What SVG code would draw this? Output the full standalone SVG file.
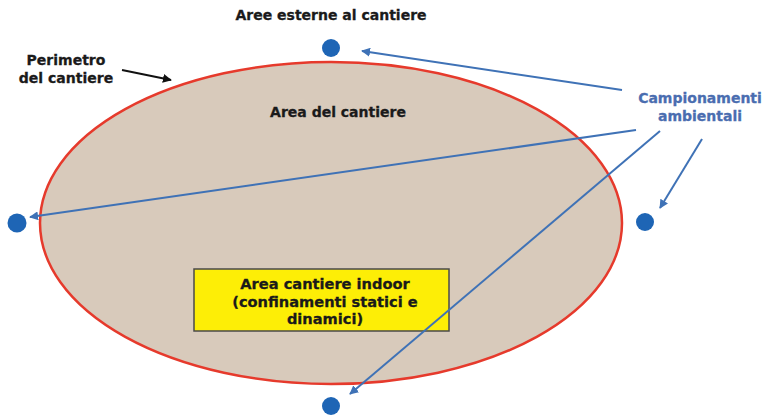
<svg xmlns="http://www.w3.org/2000/svg" width="767" height="417" viewBox="0 0 767 417">
<style>
.t{font-family:"DejaVu Sans",Verdana,sans-serif;font-weight:bold;font-size:14px;fill:#1a1a1a;text-anchor:middle;stroke:#1a1a1a;stroke-width:0.3}
.bx{font-size:14.6px}
.b{fill:#4a6db0;stroke:#4a6db0}
.dot{fill:#1e65b5}
.arr{stroke:#3f72b6;stroke-width:2;fill:none;marker-end:url(#ah)}
</style>
<defs>
<marker id="ah" viewBox="0 0 10 10" refX="9" refY="5" markerWidth="4.5" markerHeight="4.5" orient="auto" markerUnits="strokeWidth">
<path d="M0,0 L10,5 L0,10 z" fill="#3f72b6"/>
</marker>
<marker id="ahk" viewBox="0 0 10 10" refX="9" refY="5" markerWidth="4.5" markerHeight="4.5" orient="auto" markerUnits="strokeWidth">
<path d="M0,0 L10,5 L0,10 z" fill="#111"/>
</marker>
</defs>
<rect width="767" height="417" fill="#fff"/>
<g id="area-cantiere">
<ellipse cx="331" cy="223" rx="291" ry="161" fill="#d8cabb" stroke="#e63a2c" stroke-width="2.5"/>
<text class="t" x="338" y="117">Area del cantiere</text>
</g>
<g id="area-indoor">
<rect x="194" y="269" width="255" height="62" fill="#fdee06" stroke="#4a4a4a" stroke-width="1.5"/>
<text class="t bx" x="325" y="289">Area cantiere indoor</text>
<text class="t bx" x="325" y="307">(confinamenti statici e</text>
<text class="t bx" x="325" y="324">dinamici)</text>
</g>
<g id="label-esterne"><text class="t" x="331" y="20">Aree esterne al cantiere</text></g>
<g id="label-perimetro">
<text class="t" x="66" y="65">Perimetro</text>
<text class="t" x="66" y="83">del cantiere</text>
</g>
<g id="label-campionamenti">
<text class="t b" x="700" y="103">Campionamenti</text>
<text class="t b" x="700" y="121">ambientali</text>
</g>
<g id="punto-top"><circle class="dot" cx="331" cy="48" r="9"/></g>
<g id="punto-left"><circle class="dot" cx="17" cy="223" r="9.5"/></g>
<g id="punto-right"><circle class="dot" cx="645" cy="222" r="9"/></g>
<g id="punto-bottom"><circle class="dot" cx="331" cy="406" r="9"/></g>
<g id="connectors">
<line class="arr" x1="622" y1="90" x2="362" y2="51"/>
<line class="arr" x1="636" y1="130" x2="30" y2="217"/>
<line class="arr" x1="660" y1="131" x2="350" y2="394"/>
<line class="arr" x1="702" y1="139" x2="660" y2="208"/>
<line x1="122" y1="70" x2="171" y2="80" stroke="#111" stroke-width="2" marker-end="url(#ahk)"/>
</g>
</svg>
